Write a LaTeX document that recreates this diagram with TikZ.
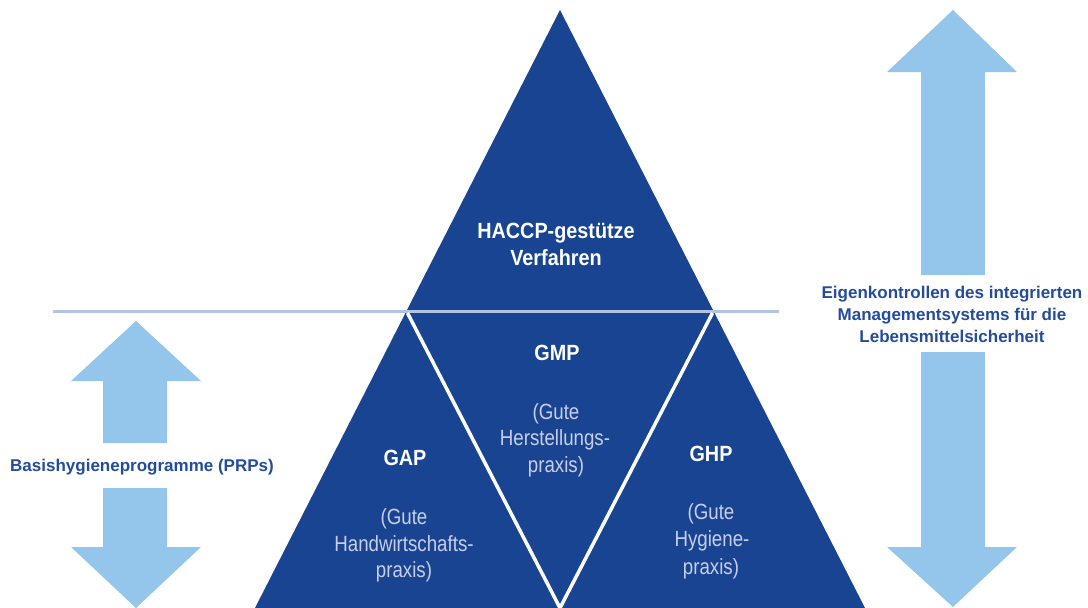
\documentclass[tikz,border=0pt]{standalone}
\usepackage{fontspec}
\setmainfont{Liberation Sans}
\newfontfamily\condf{Liberation Sans}[FakeStretch=0.9]
\newfontfamily\narrowf{Liberation Sans}[FakeStretch=0.85]
\definecolor{dkblue}{RGB}{24,68,145}
\definecolor{ltblue}{RGB}{147,198,234}
\definecolor{sepline}{RGB}{178,196,224}
\definecolor{subtxt}{RGB}{200,206,234}
\definecolor{lbltxt}{RGB}{36,76,156}
\tikzset{
  title/.style={anchor=base, text=white, font=\condf\bfseries\fontsize{22}{27}\selectfont, inner sep=0pt},
  subt/.style={anchor=base, text=subtxt, font=\narrowf\fontsize{22}{27}\selectfont, inner sep=0pt},
  sidelbl/.style={anchor=base, text=lbltxt, font=\bfseries\fontsize{17}{22}\selectfont, inner sep=0pt},
  bigarrow/.style={fill=ltblue, draw=none},
  vline/.style={draw=white, line width=3.5pt},
}
\begin{document}
\begin{tikzpicture}[x=1pt,y=-1pt]
\useasboundingbox (0,0) rectangle (1088,608);
\fill[white] (0,0) rectangle (1088,608);

% main triangle
\coordinate (apex) at (560,10);
\coordinate (bl) at (255,608);
\coordinate (br) at (865,608);
\coordinate (ml) at (407.5,311);
\coordinate (mr) at (712.5,311);
\coordinate (vt) at (560,608);
\fill[dkblue] (apex) -- (bl) -- (br) -- cycle;

% separator line
\coordinate (sl) at (53,311);
\coordinate (sr) at (779,311);
\draw[sepline, line width=3pt] (sl) -- (sr);

% white V
\draw[vline] ([yshift=-2pt]ml) -- (vt) -- ([yshift=-2pt]mr);

% left double arrow
\fill[bigarrow] (136,321) -- (201,381) -- (167,381) -- (167,443) -- (103,443) -- (103,381) -- (71,381) -- cycle;
\fill[bigarrow] (103,488) -- (167,488) -- (167,547) -- (201,547) -- (136,608) -- (71,547) -- (103,547) -- cycle;

% right double arrow
\fill[bigarrow] (953,10) -- (1017,72) -- (985,72) -- (985,275) -- (921,275) -- (921,72) -- (887,72) -- cycle;
\fill[bigarrow] (921,352) -- (985,352) -- (985,547) -- (1017,547) -- (953,607) -- (887,547) -- (921,547) -- cycle;

% texts in triangle
\node[title] (haccp1) at (556,238) {HACCP-gestütze};
\node[title] (haccp2) at (556,265) {Verfahren};

\node[title] (gmp) at (557,360) {GMP};
\node[subt] (gmp1) at (556,419) {(Gute};
\node[subt] (gmp2) at (555,445) {Herstellungs-};
\node[subt] (gmp3) at (556,472) {praxis)};

\node[title] (gap) at (405,465) {GAP};
\node[subt] (gap1) at (404,524) {(Gute};
\node[subt] (gap2) at (404,551) {Handwirtschafts-};
\node[subt] (gap3) at (404,577) {praxis)};

\node[title] (ghp) at (711,461) {GHP};
\node[subt] (ghp1) at (711,519) {(Gute};
\node[subt] (ghp2) at (712,546) {Hygiene-};
\node[subt] (ghp3) at (711,574) {praxis)};

% side labels
\node[sidelbl] (prp) at (142,471) {Basishygieneprogramme (PRPs)};
\node[sidelbl] (ek1) at (952,298) {Eigenkontrollen des integrierten};
\node[sidelbl] (ek2) at (952,320) {Managementsystems für die};
\node[sidelbl] (ek3) at (952,342) {Lebensmittelsicherheit};
\end{tikzpicture}
\end{document}
